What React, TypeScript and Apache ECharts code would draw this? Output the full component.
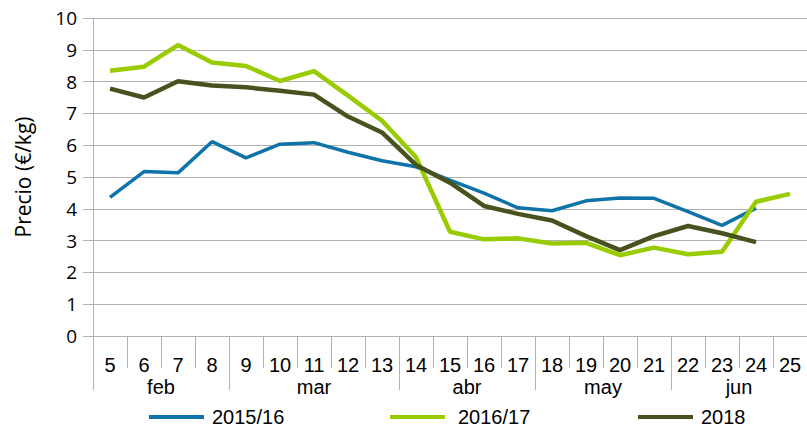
import React, { useEffect, useRef } from "react";
import * as echarts from "echarts";

const weeks = ["5", "6", "7", "8", "9", "10", "11", "12", "13", "14", "15", "16", "17", "18", "19", "20", "21", "22", "23", "24", "25"];
const monthNames = ["feb", "mar", "abr", "may", "jun"];
const monthCenters = [2, 6.5, 11, 15, 19];
const monthBounds = [0, 4, 9, 13, 17, 21];
const yTicks = [0, 1, 2, 3, 4, 5, 6, 7, 8, 9, 10];

const s1516 = [4.36, 5.17, 5.13, 6.11, 5.6, 6.03, 6.08, 5.78, 5.51, 5.32, 4.9, 4.49, 4.03, 3.94, 4.25, 4.34, 4.33, 3.91, 3.48, 4.02, null];
const s1617 = [8.34, 8.47, 9.15, 8.6, 8.49, 8.02, 8.33, 7.56, 6.77, 5.62, 3.28, 3.04, 3.07, 2.91, 2.93, 2.54, 2.78, 2.57, 2.65, 4.22, 4.47];
const s2018 = [7.78, 7.5, 8.01, 7.88, 7.82, 7.71, 7.59, 6.9, 6.4, 5.38, 4.82, 4.09, 3.84, 3.63, 3.14, 2.7, 3.14, 3.46, 3.23, 2.95, null];

const names = ["2015/16", "2016/17", "2018"];
const colors = ["#0e73a8", "#99cc00", "#48521f"];
const widths = [3.5, 4.5, 4.5];

const GRAY = "#b3b3b3";
const SANS = "'Liberation Sans', Arial, sans-serif";
const YFONT = "'Open Sans', 'Noto Sans', sans-serif";

export default function App() {
  const ref = useRef<HTMLDivElement>(null);
  useEffect(() => {
    if (!ref.current) return;
    const chart = echarts.init(ref.current, undefined, { renderer: "svg" });
    const seriesData = [s1516, s1617, s2018];
    const legendLefts = [149, 390, 638];
    const legendPads = [3, 8, 3];
    chart.setOption({
      animation: false,
      backgroundColor: "#ffffff",
      grid: { left: 93, right: -6, top: 18, bottom: 95, containLabel: false },
      legend: names.map((n, i) => ({
        data: [{ name: n, icon: "rect" }],
        left: legendLefts[i],
        top: 407,
        padding: 0,
        itemWidth: 55,
        itemHeight: 4,
        textStyle: { fontFamily: SANS, fontSize: 20, color: "#000", padding: [0, 0, 0, legendPads[i]] },
      })),
      xAxis: [
        {
          type: "category",
          data: weeks,
          boundaryGap: true,
          axisLine: { show: true, lineStyle: { color: GRAY, width: 1 } },
          axisTick: { show: true, interval: 0, length: 32, alignWithLabel: false, lineStyle: { color: GRAY } },
          axisLabel: { interval: 0, margin: 19, fontFamily: SANS, fontSize: 20, color: "#000" },
          splitLine: { show: false },
        },
        {
          type: "value",
          min: 0,
          max: 21,
          position: "bottom",
          axisLine: { show: false },
          splitLine: { show: false },
          axisTick: { show: true, customValues: monthBounds, length: 54, lineStyle: { color: GRAY } },
          axisLabel: {
            customValues: monthCenters,
            margin: 41,
            fontFamily: SANS,
            fontSize: 20,
            color: "#000",
            formatter: (v: number) => {
              const i = monthCenters.indexOf(v);
              return i >= 0 ? monthNames[i] : "";
            },
          },
        },
      ],
      yAxis: {
        type: "value",
        min: yTicks[0],
        max: yTicks[yTicks.length - 1],
        interval: 1,
        name: "Precio (€/kg)",
        nameLocation: "middle",
        nameGap: 60,
        nameTextStyle: { fontFamily: YFONT, fontSize: 21, color: "#000" },
        axisLine: { show: true, lineStyle: { color: GRAY } },
        axisTick: { show: true, length: 10, lineStyle: { color: GRAY } },
        axisLabel: { margin: 16, fontFamily: YFONT, fontSize: 19, color: "#000" },
        splitLine: { show: true, lineStyle: { color: GRAY, width: 1 } },
      },
      series: names.map((n, i) => ({
        name: n,
        type: "line",
        xAxisIndex: 0,
        data: seriesData[i],
        symbol: "none",
        smooth: false,
        connectNulls: false,
        itemStyle: { color: colors[i] },
        lineStyle: { color: colors[i], width: widths[i] },
      })),
    });
    return () => chart.dispose();
  }, []);
  return <div ref={ref} style={{ position: "fixed", left: 0, top: 0, width: 807, height: 431 }} />;
}
